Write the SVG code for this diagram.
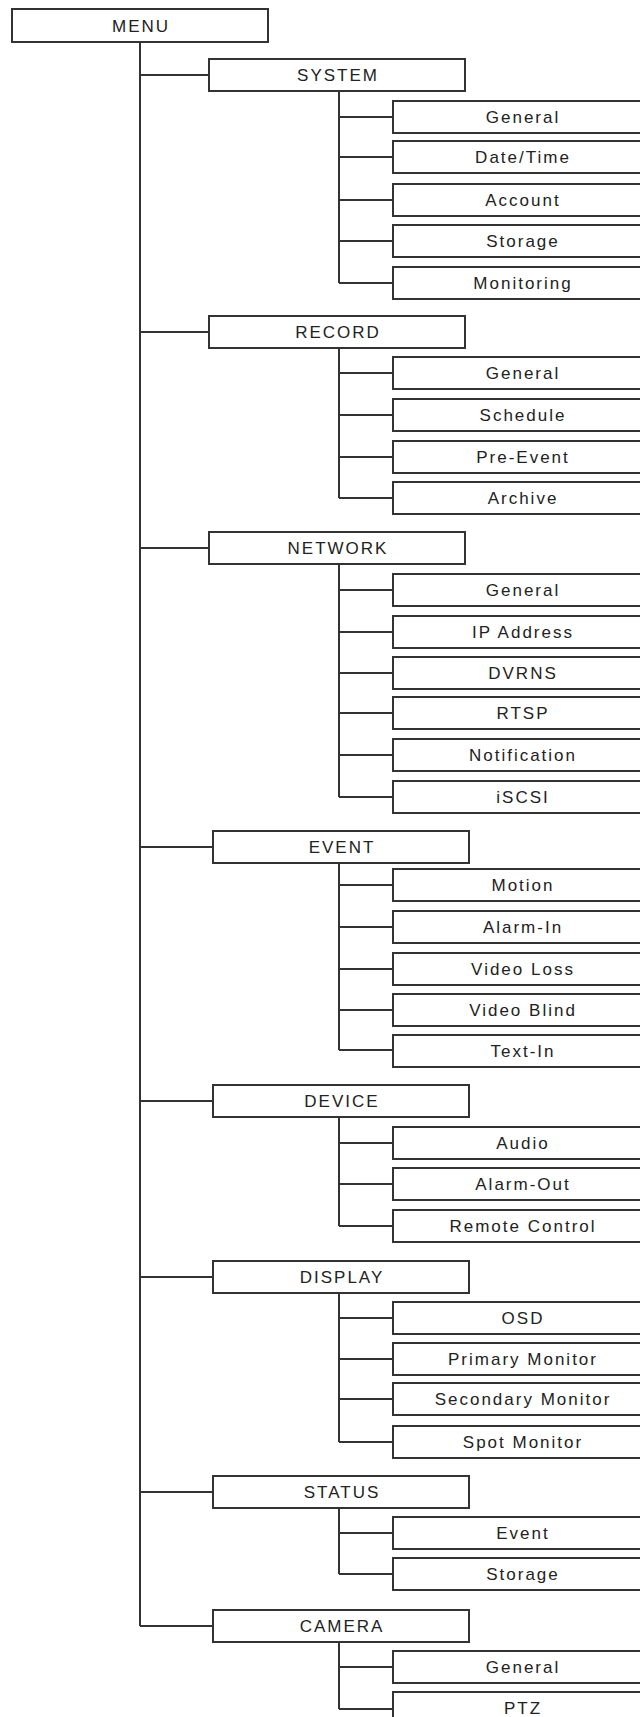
<svg xmlns="http://www.w3.org/2000/svg" width="640" height="1717" viewBox="0 0 640 1717">
<style>
.b{fill:#fff;stroke:#333;stroke-width:2}
.t{font-family:"Liberation Sans",Arial,sans-serif;font-size:17px;fill:#222;text-anchor:middle;letter-spacing:2px}
.c{fill:none;stroke:#333;stroke-width:2}
</style>
<rect width="640" height="1717" fill="#fff"/>
<g id="connectors">
<path class="c" d="M140 42V1626M140 75H209M140 332H209M140 548H209M140 847H213M140 1101H213M140 1277H213M140 1492H213M140 1626H213"/>
<path class="c" d="M339 91V283M339 117H393M339 157H393M339 200H393M339 241H393M339 283H393"/>
<path class="c" d="M339 348V498M339 373H393M339 415H393M339 457H393M339 498H393"/>
<path class="c" d="M339 564V797M339 590H393M339 632H393M339 673H393M339 713H393M339 755H393M339 797H393"/>
<path class="c" d="M339 863V1050M339 885H393M339 927H393M339 969H393M339 1010H393M339 1050H393"/>
<path class="c" d="M339 1117V1226M339 1143H393M339 1184H393M339 1226H393"/>
<path class="c" d="M339 1293V1442M339 1318H393M339 1359H393M339 1399H393M339 1442H393"/>
<path class="c" d="M339 1508V1574M339 1533H393M339 1574H393"/>
<path class="c" d="M339 1642V1709M339 1667H393M339 1709H393"/>
</g>
<g id="menu"><rect class="b" x="12" y="9" width="256" height="33"/><text class="t" x="141" y="31.5">MENU</text></g>

<g id="system"><rect class="b" x="209" y="59" width="256" height="32"/><text class="t" x="338" y="81">SYSTEM</text></g>
<g id="system-general"><rect class="b" x="393" y="101" width="258" height="32"/><text class="t" x="523" y="123">General</text></g>
<g id="system-datetime"><rect class="b" x="393" y="141" width="258" height="32"/><text class="t" x="523" y="163">Date/Time</text></g>
<g id="system-account"><rect class="b" x="393" y="184" width="258" height="32"/><text class="t" x="523" y="206">Account</text></g>
<g id="system-storage"><rect class="b" x="393" y="225" width="258" height="32"/><text class="t" x="523" y="247">Storage</text></g>
<g id="system-monitoring"><rect class="b" x="393" y="267" width="258" height="32"/><text class="t" x="523" y="289">Monitoring</text></g>

<g id="record"><rect class="b" x="209" y="316" width="256" height="32"/><text class="t" x="338" y="338">RECORD</text></g>
<g id="record-general"><rect class="b" x="393" y="357" width="258" height="32"/><text class="t" x="523" y="379">General</text></g>
<g id="record-schedule"><rect class="b" x="393" y="399" width="258" height="32"/><text class="t" x="523" y="421">Schedule</text></g>
<g id="record-preevent"><rect class="b" x="393" y="441" width="258" height="32"/><text class="t" x="523" y="463">Pre-Event</text></g>
<g id="record-archive"><rect class="b" x="393" y="482" width="258" height="32"/><text class="t" x="523" y="504">Archive</text></g>

<g id="network"><rect class="b" x="209" y="532" width="256" height="32"/><text class="t" x="338" y="554">NETWORK</text></g>
<g id="network-general"><rect class="b" x="393" y="574" width="258" height="32"/><text class="t" x="523" y="596">General</text></g>
<g id="network-ip"><rect class="b" x="393" y="616" width="258" height="32"/><text class="t" x="523" y="638">IP Address</text></g>
<g id="network-dvrns"><rect class="b" x="393" y="657" width="258" height="32"/><text class="t" x="523" y="679">DVRNS</text></g>
<g id="network-rtsp"><rect class="b" x="393" y="697" width="258" height="32"/><text class="t" x="523" y="719">RTSP</text></g>
<g id="network-notification"><rect class="b" x="393" y="739" width="258" height="32"/><text class="t" x="523" y="761">Notification</text></g>
<g id="network-iscsi"><rect class="b" x="393" y="781" width="258" height="32"/><text class="t" x="523" y="803">iSCSI</text></g>

<g id="event"><rect class="b" x="213" y="831" width="256" height="32"/><text class="t" x="342" y="853">EVENT</text></g>
<g id="event-motion"><rect class="b" x="393" y="869" width="258" height="32"/><text class="t" x="523" y="891">Motion</text></g>
<g id="event-alarmin"><rect class="b" x="393" y="911" width="258" height="32"/><text class="t" x="523" y="933">Alarm-In</text></g>
<g id="event-videoloss"><rect class="b" x="393" y="953" width="258" height="32"/><text class="t" x="523" y="975">Video Loss</text></g>
<g id="event-videoblind"><rect class="b" x="393" y="994" width="258" height="32"/><text class="t" x="523" y="1016">Video Blind</text></g>
<g id="event-textin"><rect class="b" x="393" y="1035" width="258" height="32"/><text class="t" x="523" y="1057">Text-In</text></g>

<g id="device"><rect class="b" x="213" y="1085" width="256" height="32"/><text class="t" x="342" y="1107">DEVICE</text></g>
<g id="device-audio"><rect class="b" x="393" y="1127" width="258" height="32"/><text class="t" x="523" y="1149">Audio</text></g>
<g id="device-alarmout"><rect class="b" x="393" y="1168" width="258" height="32"/><text class="t" x="523" y="1190">Alarm-Out</text></g>
<g id="device-remote"><rect class="b" x="393" y="1210" width="258" height="32"/><text class="t" x="523" y="1232">Remote Control</text></g>

<g id="display"><rect class="b" x="213" y="1261" width="256" height="32"/><text class="t" x="342" y="1283">DISPLAY</text></g>
<g id="display-osd"><rect class="b" x="393" y="1302" width="258" height="32"/><text class="t" x="523" y="1324">OSD</text></g>
<g id="display-primary"><rect class="b" x="393" y="1343" width="258" height="32"/><text class="t" x="523" y="1365">Primary Monitor</text></g>
<g id="display-secondary"><rect class="b" x="393" y="1383" width="258" height="32"/><text class="t" x="523" y="1405">Secondary Monitor</text></g>
<g id="display-spot"><rect class="b" x="393" y="1426" width="258" height="32"/><text class="t" x="523" y="1448">Spot Monitor</text></g>

<g id="status"><rect class="b" x="213" y="1476" width="256" height="32"/><text class="t" x="342" y="1498">STATUS</text></g>
<g id="status-event"><rect class="b" x="393" y="1517" width="258" height="32"/><text class="t" x="523" y="1539">Event</text></g>
<g id="status-storage"><rect class="b" x="393" y="1558" width="258" height="32"/><text class="t" x="523" y="1580">Storage</text></g>

<g id="camera"><rect class="b" x="213" y="1610" width="256" height="32"/><text class="t" x="342" y="1632">CAMERA</text></g>
<g id="camera-general"><rect class="b" x="393" y="1651" width="258" height="32"/><text class="t" x="523" y="1673">General</text></g>
<g id="camera-ptz"><rect class="b" x="393" y="1692" width="258" height="32"/><text class="t" x="523" y="1714">PTZ</text></g>
</svg>
